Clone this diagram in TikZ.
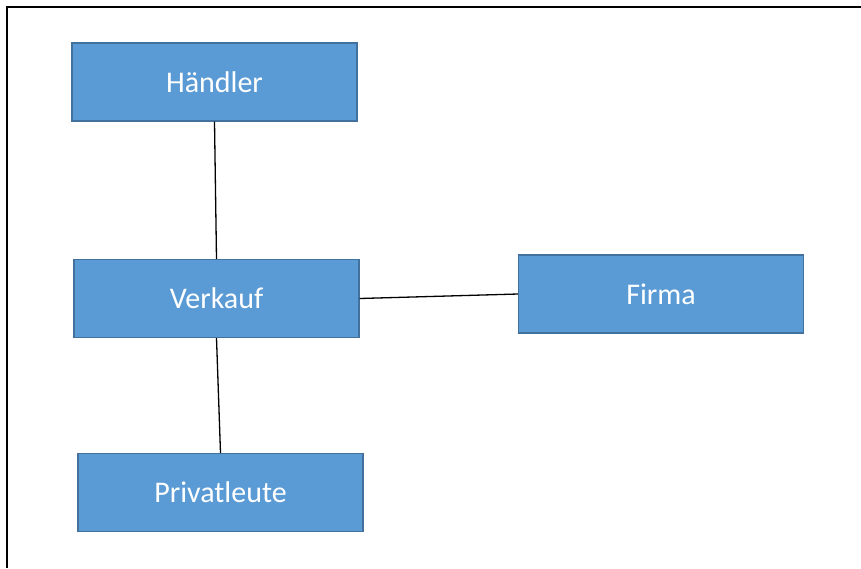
\documentclass[tikz,border=0pt]{standalone}
\usepackage{fontspec}
\setmainfont{Carlito}
\definecolor{boxfill}{HTML}{5B9BD5}
\definecolor{boxedge}{HTML}{41719C}
\begin{document}
\begin{tikzpicture}[x=1pt,y=-1pt,
  box/.style={draw=boxedge, fill=boxfill, line width=1.2pt, text=white,
    minimum width=285pt, minimum height=78pt, inner sep=0pt,
    font=\fontsize{30}{34}\selectfont, anchor=center},
  link/.style={draw=black, line width=1.3pt}]
\useasboundingbox (0,0) rectangle (861,568);
\draw[line width=2.6pt] (7,568) -- (7,7) -- (861,7);
\node[box] (h) at (214.5,82) {Händler};
\node[box] (v) at (216.5,298.5) {Verkauf};
\node[box] (f) at (661,294) {Firma};
\node[box] (p) at (220.5,492.5) {Privatleute};
\draw[link] (h.south) -- (v.north);
\draw[link] (v.south) -- (p.north);
\draw[link] (v.east) -- (f.west);
\end{tikzpicture}
\end{document}
